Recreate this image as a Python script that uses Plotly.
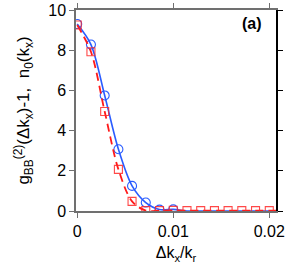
import plotly.graph_objects as go

# grid of dk_x / k_r
x_pts = [0.0, 0.00143, 0.00286, 0.00429, 0.00571, 0.00714, 0.00857, 0.01,
         0.01143, 0.01286, 0.01429, 0.01571, 0.01714, 0.01857, 0.02]
# g2_BB - 1 (blue circles)
g2_vals = [9.3, 8.28, 5.75, 3.07, 1.25, 0.42, 0.07, 0.08,
           0.0, 0.0, 0.0, 0.0, 0.0, 0.0, 0.0]
n_circles = 8
# n0(kx) (red squares)
n0_vals = [9.25, 7.92, 4.95, 2.07, 0.48, 0.02, 0.02, 0.03,
           0.02, 0.02, 0.02, 0.02, 0.02, 0.02, 0.02]

x_ticks = [0, 0.01, 0.02]
x_tick_text = ["0", "0.01", "0.02"]
y_ticks = [0, 2, 4, 6, 8, 10]

blue = "#2a5cff"
red = "#ff1a1a"
gray = "#707070"

fig = go.Figure()
fig.add_trace(go.Scatter(x=x_pts + [0.0208], y=g2_vals + [0.0], mode="lines",
                         line=dict(color=blue, width=1.6, shape="spline", smoothing=0.9),
                         showlegend=False, hoverinfo="skip"))
fig.add_trace(go.Scatter(x=x_pts[:n_circles], y=g2_vals[:n_circles], mode="markers",
                         marker=dict(symbol="circle-open", size=9, color=blue,
                                     line=dict(width=1.1, color=blue)),
                         showlegend=False))
fig.add_trace(go.Scatter(x=x_pts + [0.0208], y=n0_vals + [0.02], mode="lines",
                         line=dict(color=red, width=1.8, dash="8px,5px", shape="spline", smoothing=0.9),
                         showlegend=False, hoverinfo="skip"))
fig.add_trace(go.Scatter(x=x_pts, y=n0_vals, mode="markers",
                         marker=dict(symbol="square-open", size=8, color="rgba(255,40,40,0.85)",
                                     line=dict(width=1.1)),
                         showlegend=False))
# invisible trace to activate right axis
fig.add_trace(go.Scatter(x=[0], y=[0], yaxis="y2", mode="markers",
                         marker=dict(opacity=0), showlegend=False, hoverinfo="skip"))

font = dict(family="Liberation Sans, Arial, sans-serif", size=16, color="black")
title_font = dict(family="Liberation Sans, Arial, sans-serif", size=17, color="black")

fig.update_layout(
    width=290, height=273,
    margin=dict(l=76, r=14, t=10, b=62),
    paper_bgcolor="white", plot_bgcolor="white",
    font=font,
    xaxis=dict(range=[-0.000126, 0.0207], tickvals=x_ticks, ticktext=x_tick_text,
               showgrid=False, zeroline=False, showline=True, linecolor=gray, linewidth=1.5,
               mirror="ticks", ticks="outside", ticklen=5, tickcolor=gray, tickwidth=1,
               automargin=False, tickfont=font,
               title=dict(text="Δk<sub>x</sub>/k<sub>r</sub>", standoff=8, font=font)),
    yaxis=dict(range=[0, 10], tickvals=y_ticks,
               showgrid=False, zeroline=False, showline=True, linecolor=gray, linewidth=1.5,
               ticks="outside", ticklen=5, tickcolor=gray, tickwidth=1,
               automargin=False, tickfont=font,
               title=dict(text="g<sub>BB</sub><sup>(2)</sup>(Δk<sub>x</sub>)-1,  n<sub>0</sub>(k<sub>x</sub>)",
                          standoff=14, font=title_font)),
    yaxis2=dict(range=[0, 10], tickvals=y_ticks, overlaying="y", side="right",
                showticklabels=False, showgrid=False, zeroline=False, showline=True,
                automargin=False,
                linecolor="black", linewidth=1.5, ticks="outside", ticklen=5,
                tickcolor="black", tickwidth=1),
    annotations=[dict(text="<b>(a)</b>", x=0.94, y=0.935, xref="paper", yref="paper",
                      xanchor="right", yanchor="middle", showarrow=False,
                      font=dict(family="Liberation Sans, Arial, sans-serif", size=16, color="black"))],
)

fig.write_html("out.html", config={"displayModeBar": False},
               post_script="document.body.style.margin='0';document.body.style.overflow='hidden';")
